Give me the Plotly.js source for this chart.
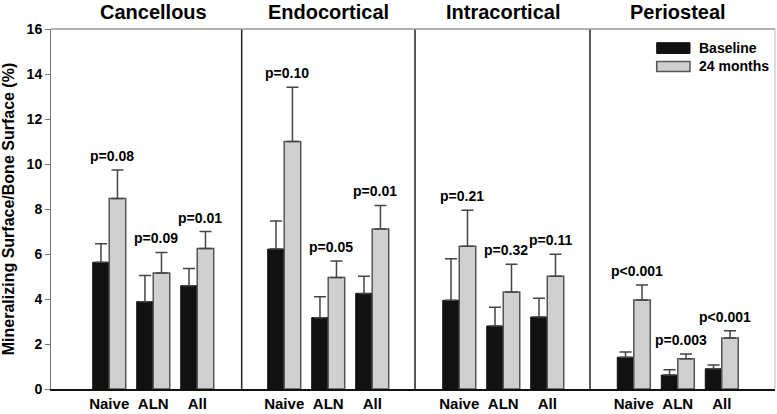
<!DOCTYPE html>
<html>
<head>
<meta charset="utf-8">
<script src="https://cdn.plot.ly/plotly-3.0.1.min.js"></script>
<style>
  html, body { margin: 0; padding: 0; background: #fff; }
  #chart { width: 777px; height: 414px; }
</style>
</head>
<body>
<div id="chart"></div>
<script>
// data
const sites = ['Cancellous', 'Endocortical', 'Intracortical', 'Periosteal'];
const groups = ['Naive', 'ALN', 'All'];
const yTicks = [0, 2, 4, 6, 8, 10, 12, 14, 16];

const baseline = [
    [5.63, 3.88, 4.59],
    [6.22, 3.17, 4.25],
    [3.94, 2.80, 3.20],
    [1.41, 0.62, 0.90]
];
const baselineErr = [
    [0.83, 1.16, 0.77],
    [1.25, 0.93, 0.76],
    [1.85, 0.83, 0.83],
    [0.23, 0.24, 0.17]
];
const month24 = [
    [8.47, 5.16, 6.25],
    [11.00, 4.96, 7.11],
    [6.34, 4.31, 5.01],
    [3.96, 1.35, 2.27]
];
const month24Err = [
    [1.26, 0.91, 0.75],
    [2.41, 0.73, 1.05],
    [1.60, 1.23, 0.98],
    [0.66, 0.21, 0.32]
];
const pValues = [
    ['p=0.08', 'p=0.09', 'p=0.01'],
    ['p=0.10', 'p=0.05', 'p=0.01'],
    ['p=0.21', 'p=0.32', 'p=0.11'],
    ['p<0.001', 'p=0.003', 'p<0.001']
];

const FONT = '"Liberation Sans", Arial, sans-serif';
const domains = [[0, 0.2634], [0.2634, 0.5028], [0.5028, 0.7445], [0.7445, 1]];
const ranges = [[-1.323, 3.011], [-0.966, 2.973], [-1.005, 2.972], [-0.995, 3.21]];

const traces = [];
const annotations = [];
const shapes = [];
const layout = {
    width: 777,
    height: 414,
    margin: { l: 51, r: 2, t: 29, b: 25 },
    paper_bgcolor: '#fff',
    plot_bgcolor: '#fff',
    barmode: 'group',
    bargap: 0.25,
    bargroupgap: 0,
    showlegend: false,
    font: { family: FONT, color: '#000', weight: 'bold' },
    yaxis: {
        range: [0, 16],
        tickmode: 'array',
        tickvals: yTicks,
        ticktext: yTicks.map(t => '<b>' + t + '</b>'),
        showgrid: false,
        zeroline: false,
        showline: true,
        linecolor: '#777',
        linewidth: 1,
        ticks: 'outside',
        ticklen: 5,
        tickcolor: '#777',
        tickfont: { size: 14, weight: 'bold', family: FONT, color: '#000' },
        title: {
            text: 'Mineralizing Surface/Bone Surface (%)',
            font: { size: 16, weight: 'bold', family: FONT, color: '#000' },
            standoff: 9
        }
    }
};

function zeros(n) {
    return new Array(n).fill(0);
}

sites.forEach((site, i) => {
    const xa = i === 0 ? 'x' : 'x' + (i + 1);
    const axKey = i === 0 ? 'xaxis' : 'xaxis' + (i + 1);

    layout[axKey] = {
        domain: domains[i],
        anchor: 'y',
        type: 'category',
        range: ranges[i],
        showgrid: false,
        zeroline: false,
        showline: true,
        linecolor: '#111',
        linewidth: 1.5,
        ticks: '',
        tickfont: { size: 15, weight: 'bold', family: FONT, color: '#000' },
        fixedrange: true
    };

    traces.push({
        type: 'bar',
        name: 'Baseline',
        x: groups,
        y: baseline[i],
        xaxis: xa,
        yaxis: 'y',
        marker: { color: '#111', line: { color: '#111', width: 1 } },
        error_y: {
            type: 'data', symmetric: false,
            array: baselineErr[i], arrayminus: zeros(3),
            color: '#444', thickness: 1.5, width: 6
        }
    });
    traces.push({
        type: 'bar',
        name: '24 months',
        x: groups,
        y: month24[i],
        xaxis: xa,
        yaxis: 'y',
        marker: { color: '#d0d0d0', line: { color: '#555', width: 1.5 } },
        error_y: {
            type: 'data', symmetric: false,
            array: month24Err[i], arrayminus: zeros(3),
            color: '#444', thickness: 1.5, width: 6
        }
    });

    // panel title
    annotations.push({
        xref: xa, yref: 'paper',
        x: groups[1], y: 1,
        yanchor: 'middle', yshift: 17,
        text: site,
        showarrow: false,
        font: { size: 20, weight: 'bold', family: FONT }
    });

    // p-values above each pair
    groups.forEach((g, j) => {
        const top = Math.max(baseline[i][j] + baselineErr[i][j], month24[i][j] + month24Err[i][j]);
        annotations.push({
            xref: xa, yref: 'y',
            x: g, y: top,
            yanchor: 'bottom', yshift: 4, xshift: 3,
            text: pValues[i][j],
            showarrow: false,
            font: { size: 14, weight: 'bold', family: FONT }
        });
    });

    // panel separators
    if (i > 0) {
        shapes.push({
            type: 'line', xref: 'paper', yref: 'paper',
            x0: domains[i][0], x1: domains[i][0], y0: 0, y1: 1,
            line: { color: '#222', width: 1.5 }
        });
    }
});

// frame
shapes.push({
    type: 'line', xref: 'paper', yref: 'paper',
    x0: 0, x1: 1, y0: 1, y1: 1,
    line: { color: '#999', width: 1.5 }
});
shapes.push({
    type: 'line', xref: 'paper', yref: 'paper',
    x0: 1, x1: 1, y0: 0, y1: 1,
    line: { color: '#bbb', width: 1 }
});

// legend drawn by hand so the swatches are wide like the original
shapes.push({
    type: 'rect', xref: 'paper', yref: 'paper',
    x0: 0.8366, x1: 0.8826, y0: 0.932, y1: 0.962,
    fillcolor: '#111', line: { color: '#111', width: 1 }
});
shapes.push({
    type: 'rect', xref: 'paper', yref: 'paper',
    x0: 0.8366, x1: 0.8826, y0: 0.882, y1: 0.910,
    fillcolor: '#d0d0d0', line: { color: '#555', width: 1.5 }
});
annotations.push({
    xref: 'paper', yref: 'paper', x: 0.892, y: 0.946,
    xanchor: 'left', yanchor: 'middle',
    text: 'Baseline', showarrow: false,
    font: { size: 14, weight: 'bold', family: FONT }
});
annotations.push({
    xref: 'paper', yref: 'paper', x: 0.892, y: 0.896,
    xanchor: 'left', yanchor: 'middle',
    text: '24 months', showarrow: false,
    font: { size: 14, weight: 'bold', family: FONT }
});

layout.annotations = annotations;
layout.shapes = shapes;

Plotly.newPlot('chart', traces, layout, { staticPlot: true, displayModeBar: false });
</script>
</body>
</html>
